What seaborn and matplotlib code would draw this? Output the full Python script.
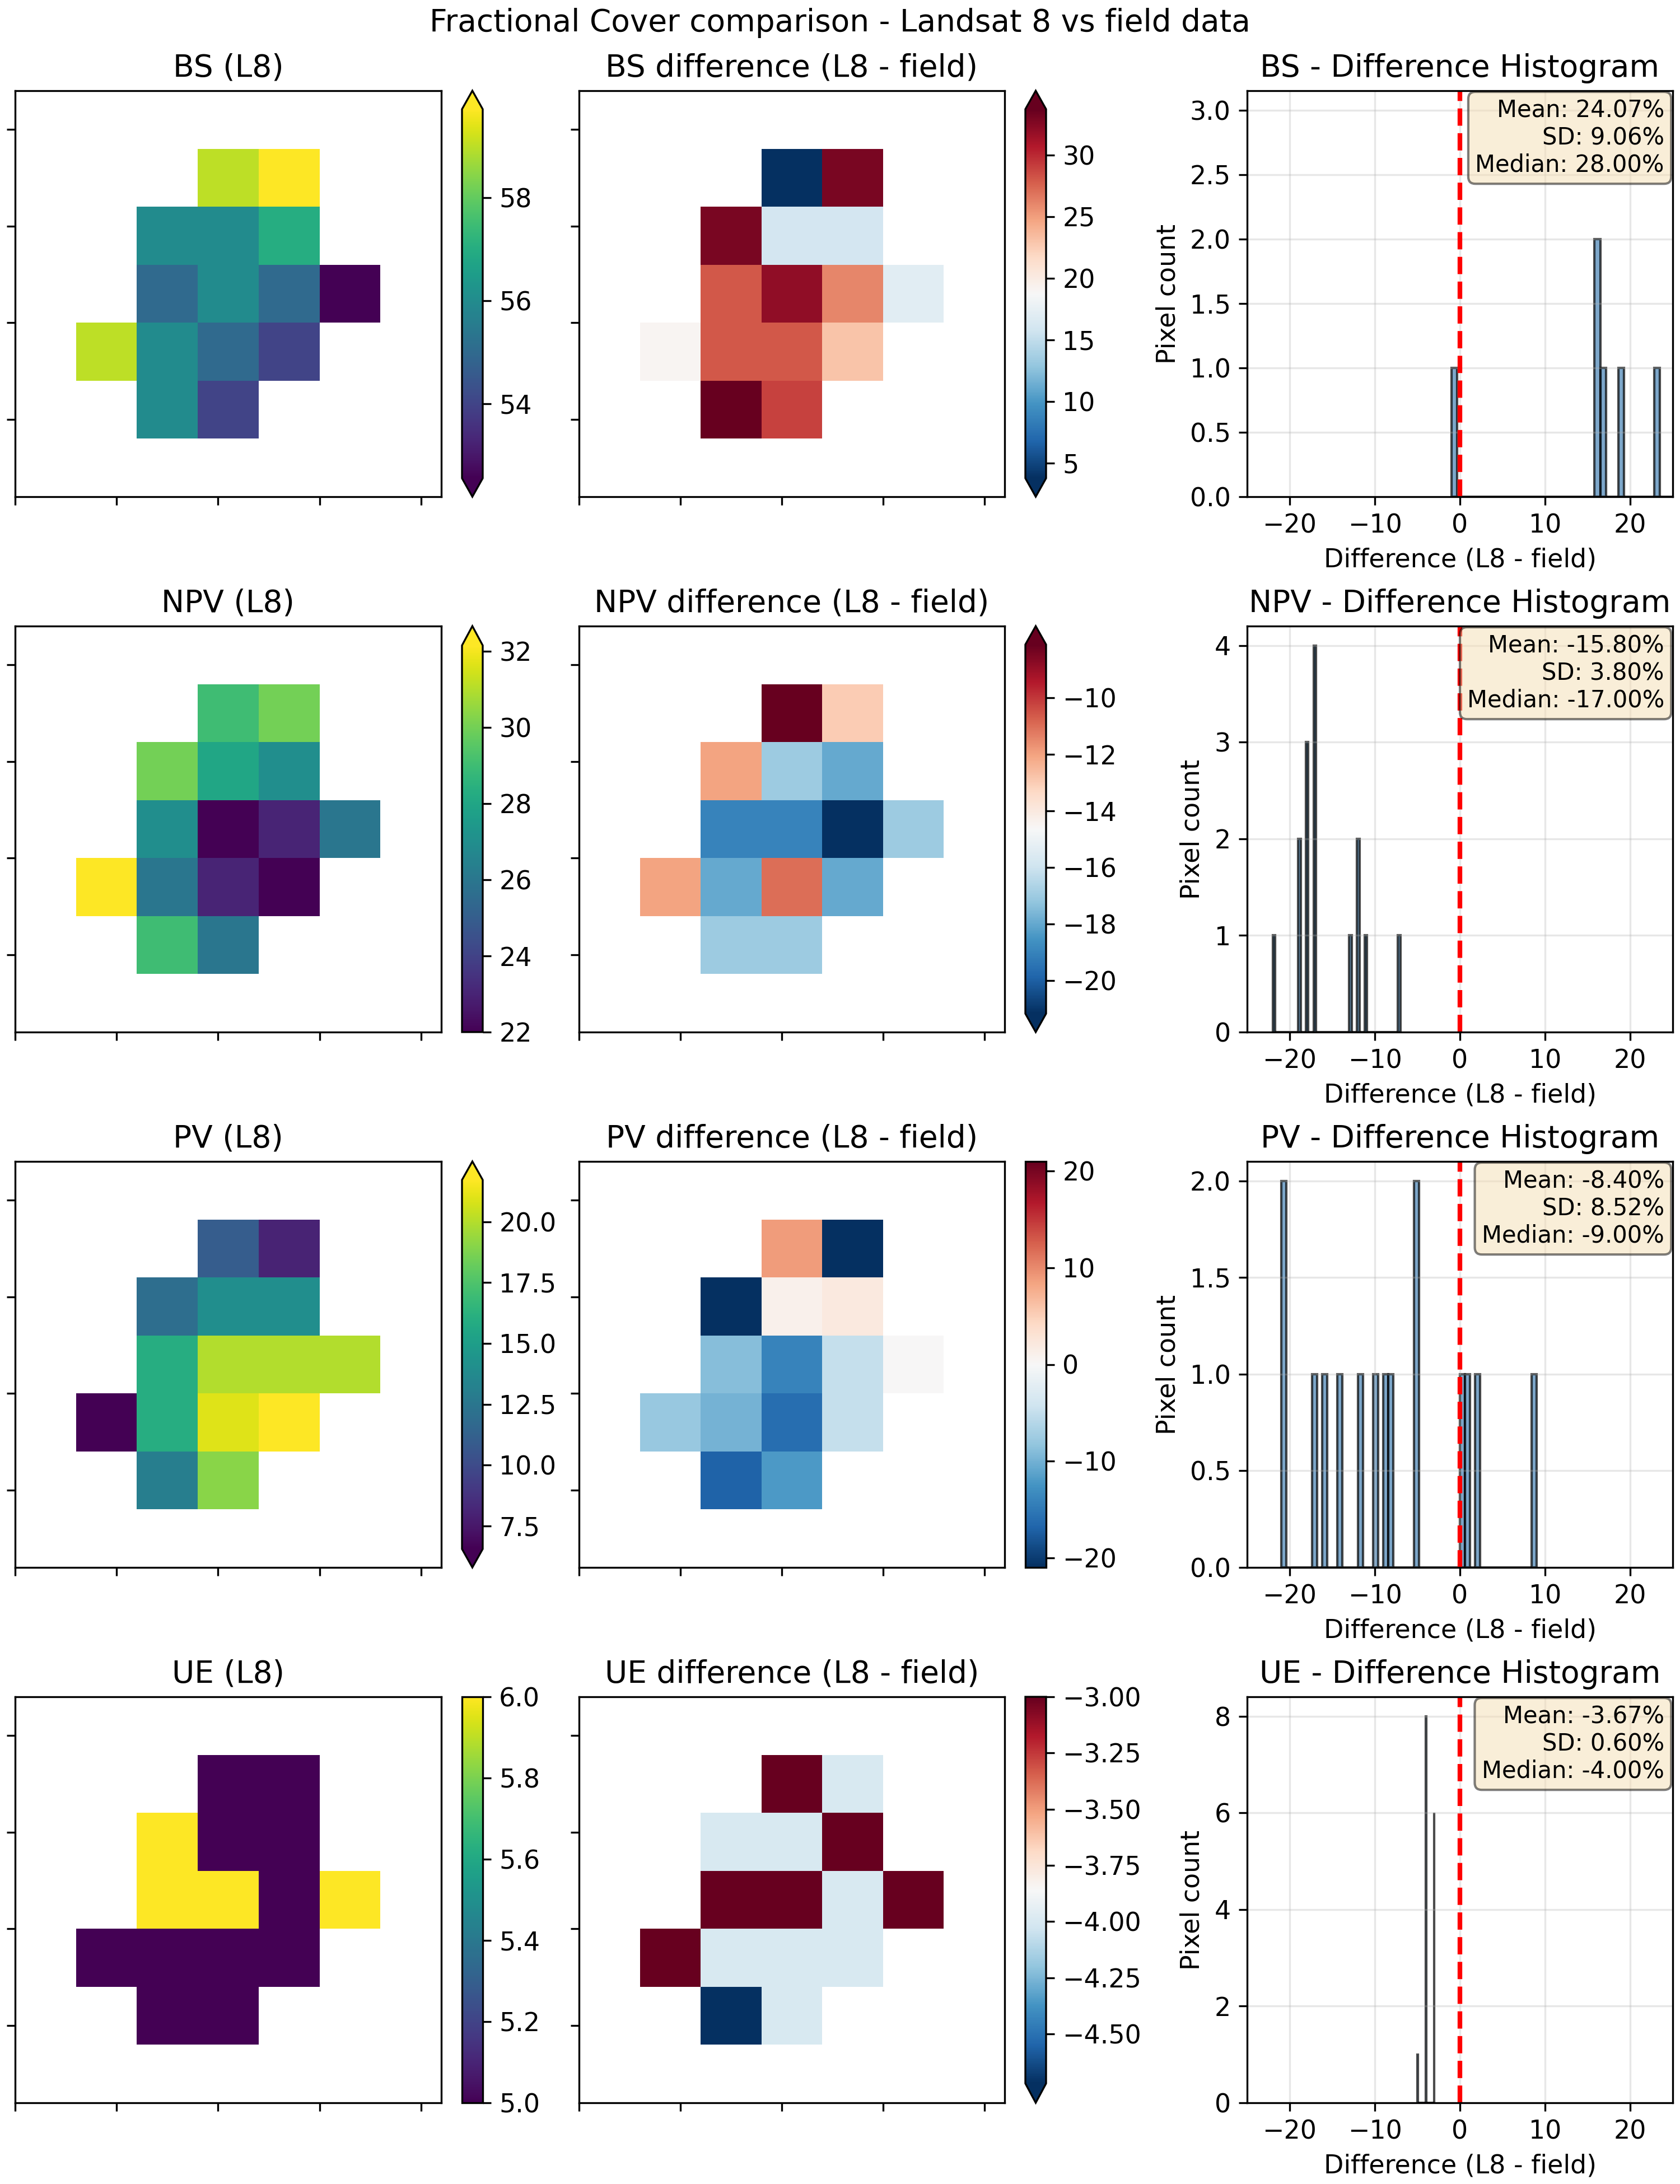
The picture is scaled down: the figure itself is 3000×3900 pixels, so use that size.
import numpy as np
import pandas as pd
import matplotlib
matplotlib.use("Agg")
import matplotlib.pyplot as plt
import seaborn as sns

plt.rcParams['font.size'] = 11
plt.rcParams['font.family'] = ['DejaVu Sans']

N = np.nan
# 7x7 pixel grids (rows top -> bottom), NaN = outside the site
bs_l8 = [
    [N, N, N, N, N, N, N],
    [N, N, N, 59, 60, N, N],
    [N, N, 56, 56, 57, N, N],
    [N, N, 55, 56, 55, 52, N],
    [N, 59, 56, 55, 54, N, N],
    [N, N, 56, 54, N, N, N],
    [N, N, N, N, N, N, N],
]
bs_diff = [
    [N, N, N, N, N, N, N],
    [N, N, N, -1, 33, N, N],
    [N, N, 33, 16, 16, N, N],
    [N, N, 28, 32, 26, 17, N],
    [N, 19, 28, 28, 23, N, N],
    [N, N, 34, 29, N, N, N],
    [N, N, N, N, N, N, N],
]
npv_l8 = [
    [N, N, N, N, N, N, N],
    [N, N, N, 29, 30, N, N],
    [N, N, 30, 28, 27, N, N],
    [N, N, 27, 22, 23, 26, N],
    [N, 33, 26, 23, 22, N, N],
    [N, N, 29, 26, N, N, N],
    [N, N, N, N, N, N, N],
]
npv_diff = [
    [N, N, N, N, N, N, N],
    [N, N, N, -7, -13, N, N],
    [N, N, -12, -17, -18, N, N],
    [N, N, -19, -19, -22, -17, N],
    [N, -12, -18, -11, -18, N, N],
    [N, N, -17, -17, N, N, N],
    [N, N, N, N, N, N, N],
]
pv_l8 = [
    [N, N, N, N, N, N, N],
    [N, N, N, 11, 8, N, N],
    [N, N, 12, 14, 14, N, N],
    [N, N, 16, 20, 20, 20, N],
    [N, 6, 16, 21, 22, N, N],
    [N, N, 13, 19, N, N, N],
    [N, N, N, N, N, N, N],
]
pv_diff = [
    [N, N, N, N, N, N, N],
    [N, N, N, 9, -21, N, N],
    [N, N, -21, 1, 2, N, N],
    [N, N, -9, -14, -5, 0, N],
    [N, -8, -10, -16, -5, N, N],
    [N, N, -17, -12, N, N, N],
    [N, N, N, N, N, N, N],
]
ue_l8 = [
    [N, N, N, N, N, N, N],
    [N, N, N, 5, 5, N, N],
    [N, N, 6, 5, 5, N, N],
    [N, N, 6, 6, 5, 6, N],
    [N, 5, 5, 5, 5, N, N],
    [N, N, 5, 5, N, N, N],
    [N, N, N, N, N, N, N],
]
ue_diff = [
    [N, N, N, N, N, N, N],
    [N, N, N, -3, -4, N, N],
    [N, N, -4, -4, -3, N, N],
    [N, N, -3, -3, -4, -3, N],
    [N, -3, -4, -4, -4, N, N],
    [N, N, -5, -4, N, N, N],
    [N, N, N, N, N, N, N],
]

components = ["BS", "NPV", "PV", "UE"]
l8_maps = [bs_l8, npv_l8, pv_l8, ue_l8]
diff_maps = [bs_diff, npv_diff, pv_diff, ue_diff]

W, H = 3000, 3900
fig = plt.figure(figsize=(10, 13), dpi=300)

row_tops = [162, 1118, 2074, 3030]
row_h = 725
cols = {"map1": (27, 761), "cb1": (825, 37), "map2": (1034, 760),
        "cb2": (1831, 37), "hist": (2227, 760)}


def add_ax(col, top):
    x, w = cols[col]
    return fig.add_axes([x / W, 1 - (top + row_h) / H, w / W, row_h / H])


def draw_map(ax, cax, grid, cmap, title, is_diff):
    arr = np.array(grid, dtype=float)
    vals = arr[~np.isnan(arr)]
    lo, hi = np.percentile(vals, [2, 98])
    if is_diff and lo < 0 < hi:
        m = max(abs(lo), abs(hi))
        lo, hi = -m, m
    emin, emax = vals.min() < lo - 1e-9, vals.max() > hi + 1e-9
    extend = {(True, True): "both", (True, False): "min",
              (False, True): "max", (False, False): "neither"}[(emin, emax)]
    sns.heatmap(pd.DataFrame(arr), ax=ax, cbar_ax=cax, cmap=cmap, vmin=lo, vmax=hi,
                cbar_kws={"extend": extend}, xticklabels=False, yticklabels=False)
    for s in ax.spines.values():
        s.set_visible(True)
        s.set_linewidth(0.8)
        s.set_color("black")
    ax.set_xticks([0, 5 / 3, 10 / 3, 5, 20 / 3])
    ax.set_xticklabels([])
    ax.set_yticks([2 / 3, 7 / 3, 4, 17 / 3])
    ax.set_yticklabels([])
    ax.tick_params(left=True, bottom=True, length=3.5, width=0.8)
    ax.set_title(title)
    cb = ax.collections[0].colorbar
    cb.outline.set_linewidth(0.8)
    cb.outline.set_edgecolor("black")
    cb.ax.tick_params(length=3.5, width=0.8, labelsize=11)


for i, comp in enumerate(components):
    top = row_tops[i]
    ax1, cax1 = add_ax("map1", top), add_ax("cb1", top)
    ax2, cax2 = add_ax("map2", top), add_ax("cb2", top)
    ax3 = add_ax("hist", top)

    draw_map(ax1, cax1, l8_maps[i], "viridis", f"{comp} (L8)", False)
    draw_map(ax2, cax2, diff_maps[i], "RdBu_r", f"{comp} difference (L8 - field)", True)

    d = np.array(diff_maps[i], dtype=float)
    d = d[~np.isnan(d)]
    sns.histplot(x=d, bins=50, ax=ax3, color="steelblue", alpha=0.7,
                 edgecolor=(0, 0, 0, 0.7), linewidth=1)
    ax3.axvline(0, color="red", linestyle="--", linewidth=2)
    ax3.set_xlim(-25, 25)
    ax3.grid(True, alpha=0.3)
    ax3.set_xlabel("Difference (L8 - field)")
    ax3.set_ylabel("Pixel count")
    ax3.set_title(f"{comp} - Difference Histogram")
    txt = (f"Mean: {np.mean(d):.2f}%\nSD: {np.std(d):.2f}%\n"
           f"Median: {np.median(d):.2f}%")
    ax3.text(0.98, 0.98, txt, transform=ax3.transAxes, ha="right", va="top",
             fontsize=10, bbox=dict(boxstyle="round", facecolor="wheat", alpha=0.5))

fig.suptitle("Fractional Cover comparison - Landsat 8 vs field data",
             fontsize=13.2, y=0.9965, va="top")

fig.savefig("out.png", dpi=300)
